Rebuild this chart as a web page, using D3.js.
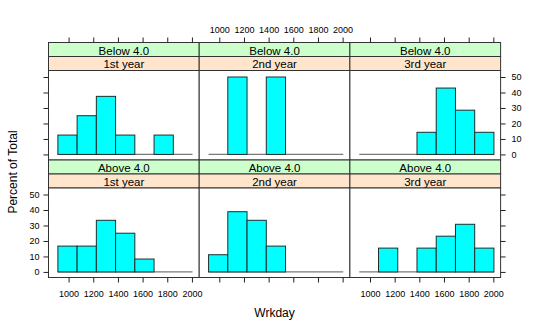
<!DOCTYPE html>
<html>
<head>
<meta charset="utf-8">
<script src="https://cdn.jsdelivr.net/npm/d3@7"></script>
<style>
  body { margin: 0; background: #fff; }
  svg { display: block; font-family: "Liberation Sans", Arial, Helvetica, sans-serif; }
</style>
</head>
<body>
<svg id="chart" width="540" height="330"></svg>
<script>
// Conditioning levels: rows by GPA group, columns by year of study
const gpaGroups = ["Below 4.0", "Above 4.0"];
const yearGroups = ["1st year", "2nd year", "3rd year"];

// Histogram bin breaks shared by all panels (Wrkday)
const binBreaks = [913, 1069, 1225, 1381, 1537, 1693, 1849, 2005];

// Percent of total in each bin, one array per panel
const belowFirst  = [12.5, 25, 37.5, 12.5, 0, 12.5, 0];
const belowSecond = [0, 50, 0, 50, 0, 0, 0];
const belowThird  = [0, 0, 0, 14.29, 42.86, 28.57, 14.29];
const aboveFirst  = [16.67, 16.67, 33.33, 25, 8.33, 0, 0];
const aboveSecond = [11.11, 38.89, 33.33, 16.67, 0, 0, 0];
const aboveThird  = [0, 15.38, 0, 15.38, 23.08, 30.77, 15.38];

const panelPercents = [
  [belowFirst, belowSecond, belowThird],
  [aboveFirst, aboveSecond, aboveThird]
];

const xTicks = [1000, 1200, 1400, 1600, 1800, 2000];
const yTicks = [0, 10, 20, 30, 40, 50];
const xLimits = [837, 2059];
const yLimits = [-3.6, 54.2];

// Layout
const gridLeft = 48.5, panelW = 150.7;
const gridTop = 42.5, stripH = 14, panelH = 89.5;
const rowH = 2 * stripH + panelH;
const outerStrip = "#ccffcc", innerStrip = "#ffe5cc";
const frame = "#333";

const svg = d3.select("#chart");

function colX(c) { return gridLeft + c * panelW; }
function rowY(r) { return gridTop + r * rowH; }

function xScale(c) {
  return d3.scaleLinear().domain(xLimits).range([colX(c), colX(c) + panelW]);
}
function yScale(r) {
  const pTop = rowY(r) + 2 * stripH;
  return d3.scaleLinear().domain(yLimits).range([pTop + panelH, pTop]);
}

gpaGroups.forEach((gpa, r) => {
  yearGroups.forEach((yr, c) => {
    const x = xScale(c), y = yScale(r);
    const g = svg.append("g");
    const x0 = colX(c), y0 = rowY(r);

    // strips
    g.append("rect").attr("x", x0).attr("y", y0).attr("width", panelW).attr("height", stripH)
      .attr("fill", outerStrip).attr("stroke", frame).attr("stroke-width", 1);
    g.append("text").attr("x", x0 + panelW / 2).attr("y", y0 + 12.2)
      .attr("text-anchor", "middle").attr("font-size", 11.5).attr("fill", "#000").text(gpa);
    g.append("rect").attr("x", x0).attr("y", y0 + stripH).attr("width", panelW).attr("height", stripH)
      .attr("fill", innerStrip).attr("stroke", frame).attr("stroke-width", 1);
    g.append("text").attr("x", x0 + panelW / 2).attr("y", y0 + stripH + 11.8)
      .attr("text-anchor", "middle").attr("font-size", 11.5).attr("fill", "#000").text(yr);

    // panel
    const pTop = y0 + 2 * stripH;
    g.append("rect").attr("x", x0).attr("y", pTop).attr("width", panelW).attr("height", panelH)
      .attr("fill", "#fff").attr("stroke", frame).attr("stroke-width", 1);

    // zero-height bins show as a baseline across the full break range
    g.append("line")
      .attr("x1", x(binBreaks[0])).attr("x2", x(binBreaks[binBreaks.length - 1]))
      .attr("y1", y(0)).attr("y2", y(0))
      .attr("stroke", "#7a7a7a").attr("stroke-width", 1.3);

    const bins = panelPercents[r][c].map((v, i) => ({ lo: binBreaks[i], hi: binBreaks[i + 1], v }))
      .filter(d => d.v > 0);
    g.selectAll("rect.bar").data(bins).enter().append("rect")
      .attr("class", "bar")
      .attr("x", d => x(d.lo)).attr("width", d => x(d.hi) - x(d.lo))
      .attr("y", d => y(d.v)).attr("height", d => y(0) - y(d.v))
      .attr("fill", "#00ffff").attr("stroke", "#1e2e2e").attr("stroke-width", 1);
  });
});

// Axes
function styleAxis(sel) {
  sel.select(".domain").remove();
  sel.selectAll(".tick line").attr("stroke", "#222");
  sel.selectAll(".tick text").attr("fill", "#000").attr("font-size", 9)
    .attr("font-family", "\"Liberation Sans\", Arial, sans-serif");
}

yearGroups.forEach((_, c) => {
  const x = xScale(c);
  // top axis: labels only above the middle column
  svg.append("g").attr("transform", `translate(0,${gridTop})`)
    .call(d3.axisTop(x).tickValues(xTicks).tickSize(5).tickPadding(4.3)
      .tickFormat(c === 1 ? d3.format("d") : () => ""))
    .call(styleAxis);
  // bottom axis: labels under the outer columns
  const bottom = rowY(1) + 2 * stripH + panelH;
  svg.append("g").attr("transform", `translate(0,${bottom})`)
    .call(d3.axisBottom(x).tickValues(xTicks).tickSize(5).tickPadding(8.4)
      .tickFormat(c !== 1 ? d3.format("d") : () => ""))
    .call(styleAxis);
});

gpaGroups.forEach((_, r) => {
  const y = yScale(r);
  // left axis: labels on the lower row
  svg.append("g").attr("transform", `translate(${gridLeft},0)`)
    .call(d3.axisLeft(y).tickValues(yTicks).tickSize(5).tickPadding(4)
      .tickFormat(r === 1 ? d3.format("d") : () => ""))
    .call(styleAxis);
  // right axis: labels on the upper row
  svg.append("g").attr("transform", `translate(${gridLeft + 3 * panelW},0)`)
    .call(d3.axisRight(y).tickValues(yTicks).tickSize(5).tickPadding(6)
      .tickFormat(r === 0 ? d3.format("d") : () => ""))
    .call(styleAxis);
});

// Axis titles
svg.append("text").attr("x", gridLeft + 1.5 * panelW).attr("y", 317)
  .attr("text-anchor", "middle").attr("font-size", 12).attr("fill", "#000").text("Wrkday");
svg.append("text").attr("transform", "translate(17,172) rotate(-90)")
  .attr("text-anchor", "middle").attr("font-size", 12).attr("fill", "#000").text("Percent of Total");
</script>
</body>
</html>
